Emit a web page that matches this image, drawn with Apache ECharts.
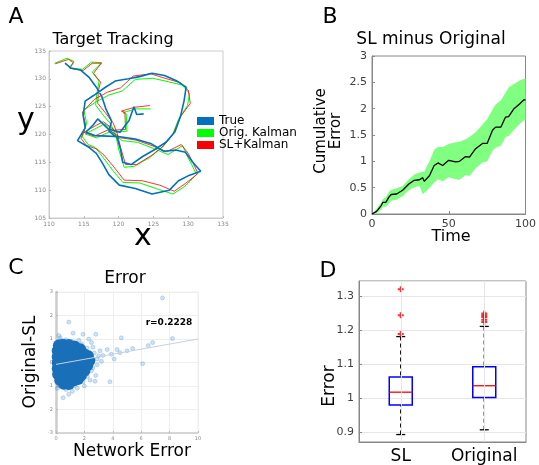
<!DOCTYPE html>
<html>
<head>
<meta charset="utf-8">
<script src="https://cdn.jsdelivr.net/npm/echarts@6/dist/echarts.min.js"></script>
<style>
  html, body { margin: 0; padding: 0; background: #fff; }
  #main { width: 539px; height: 465px; }
</style>
</head>
<body>
<div id="main"></div>
<script>
var FONT = 'DejaVu Sans';

// ---- A: target tracking (x, y) ----
var trackTrue = [
  [112.3,132.8],[113.2,131.9],[114.5,131.6],[115.8,130.2],[116.8,128.5],[117.6,126.8],[118.2,124.5],[119.0,122.4],
  [118.6,120.6],[119.8,119.4],[120.3,117.2],[120.6,115.0],[121.8,114.6],[123.4,116.0],[125.2,117.3],[126.8,118.6],
  [128.1,120.5],[128.9,123.3],[129.4,126.0],[129.7,128.5],[128.4,129.6],[126.6,130.6],[124.8,131.0],[123.0,130.4],
  [121.4,130.0],[119.5,129.6],[118.0,128.4],[116.4,127.0],[115.2,126.0],[114.9,123.5],[115.2,121.2],[114.1,118.9],
  [115.6,117.8],[116.8,116.6],[117.8,114.6],[118.6,112.8],[120.1,110.9],[122.4,110.3],[124.8,109.3],[127.3,110.0],
  [128.6,111.7],[130.2,112.7],[131.8,113.4],[130.6,115.1],[129.6,116.8],[128.2,117.2],[126.5,117.0],[124.6,118.4],
  [122.4,119.2],[120.2,119.6],[118.4,119.7],[116.6,119.8],[115.3,120.4],[116.4,121.8],[117.0,122.8],[118.5,121.0],
  [120.2,120.4],[121.5,122.5],[122.2,125.0],[122.6,123.6],[123.6,123.7]
];
var trackOrig = [
  [110.8,132.8],[112.6,133.7],[113.6,133.1],[112.9,132.0],[114.8,131.7],[116.1,133.0],[117.6,132.9],[116.2,131.2],
  [117.2,129.6],[116.9,127.6],[116.7,125.3],[117.7,123.6],[118.9,121.8],[119.6,119.9],[120.0,117.4],[120.8,114.1],
  [122.3,114.3],[124.5,115.9],[126.2,117.6],[127.7,119.8],[128.6,122.7],[129.9,125.2],[130.2,127.4],[129.1,128.9],
  [126.7,129.6],[124.9,130.1],[122.4,129.9],[120.5,127.8],[118.6,127.1],[116.8,125.9],[115.0,124.4],[115.4,122.1],
  [114.8,119.6],[115.6,118.2],[116.6,117.7],[117.7,116.0],[119.0,113.8],[120.6,111.4],[123.0,111.3],[125.6,110.2],
  [127.8,109.3],[129.4,110.6],[131.2,112.8],[130.5,114.6],[129.8,116.3],[129.2,118.0],[127.1,116.4],[125.0,117.5],
  [122.7,118.6],[120.5,118.9],[118.9,120.6],[116.8,119.4],[115.2,120.1],[116.9,121.2],[118.0,121.9],[119.6,120.4],
  [121.2,120.6],[121.1,123.7],[120.6,123.9],[122.4,124.6],[124.6,124.6]
];
var trackSL = [
  [110.9,132.7],[112.8,133.5],[113.5,132.9],[113.0,131.9],[114.9,131.5],[116.2,132.8],[117.5,132.8],[116.4,131.0],
  [117.4,129.4],[117.1,127.9],[117.0,125.6],[118.1,123.9],[119.2,122.1],[119.8,120.2],[120.3,117.6],[121.0,114.6],
  [122.6,114.6],[124.8,116.3],[126.5,118.0],[127.9,120.2],[128.9,123.2],[130.3,125.6],[130.0,128.0],[128.9,129.3],
  [126.4,130.2],[124.6,130.9],[122.1,130.5],[120.3,128.4],[118.4,127.6],[116.5,126.3],[114.8,124.0],[115.3,121.6],
  [114.6,119.3],[115.4,118.0],[116.9,117.4],[117.9,116.3],[119.3,114.2],[120.8,111.8],[123.4,111.7],[125.9,110.9],
  [128.0,109.8],[129.6,111.2],[131.4,113.0],[130.7,114.9],[130.0,116.6],[129.0,118.2],[126.9,116.9],[124.8,118.0],
  [122.5,119.0],[120.3,119.4],[118.6,120.9],[116.5,119.7],[115.0,120.4],[116.7,121.6],[117.8,122.3],[119.4,120.8],
  [121.0,120.9],[120.9,124.0],[120.4,124.2],[122.3,124.9],[124.5,125.2]
];

// ---- B: SL minus Original, cumulative error ----
var bTime  = [0, 3, 6, 7, 9, 11, 12.5, 16, 20, 24, 27.5, 31, 33, 34, 37.5, 40.5, 43, 46, 50, 54.5, 57, 61, 63.5, 67.5, 72, 75, 78.5, 80.5, 84, 87, 89, 92.5, 96.5, 99, 100];
var bMean  = [0, 0.05, 0.16, 0.22, 0.22, 0.32, 0.37, 0.38, 0.45, 0.57, 0.64, 0.65, 0.69, 0.62, 0.73, 0.92, 0.97, 0.92, 1.02, 0.99, 1.00, 1.09, 1.08, 1.24, 1.34, 1.34, 1.59, 1.65, 1.65, 1.84, 1.85, 2.00, 2.10, 2.17, 2.16];
var bUpper = [0, 0.10, 0.22, 0.28, 0.32, 0.42, 0.46, 0.49, 0.53, 0.66, 0.75, 0.79, 0.80, 0.80, 1.00, 1.22, 1.27, 1.27, 1.33, 1.36, 1.37, 1.42, 1.46, 1.55, 1.70, 1.80, 1.98, 2.08, 2.16, 2.30, 2.40, 2.47, 2.54, 2.57, 2.57];
var bLower = [0, 0.02, 0.08, 0.14, 0.14, 0.20, 0.25, 0.27, 0.34, 0.45, 0.51, 0.53, 0.38, 0.40, 0.50, 0.60, 0.66, 0.62, 0.70, 0.66, 0.65, 0.74, 0.72, 0.87, 0.98, 1.00, 1.20, 1.26, 1.30, 1.46, 1.48, 1.60, 1.72, 1.78, 1.77];

// ---- C: error scatter (network error, original-SL) ----
var cCore = [
  [0.2,0.72],[0.5,0.76],[0.9,0.74],[1.3,0.68],[1.7,0.56],
  [0.12,0.5],[0.4,0.55],[0.75,0.5],[1.1,0.52],[1.5,0.45],[1.9,0.38],[2.25,0.28],
  [0.12,0.25],[0.35,0.22],[0.65,0.28],[0.95,0.25],[1.25,0.2],[1.6,0.22],[2.0,0.15],[2.35,0.08],
  [0.12,0.0],[0.3,-0.02],[0.6,0.02],[0.9,-0.05],[1.2,0.0],[1.55,-0.03],[1.9,-0.08],[2.2,-0.12],
  [0.12,-0.25],[0.4,-0.28],[0.7,-0.22],[1.0,-0.3],[1.35,-0.25],[1.7,-0.3],[2.0,-0.35],
  [0.15,-0.5],[0.45,-0.55],[0.75,-0.5],[1.05,-0.55],[1.4,-0.5],[1.75,-0.55],
  [0.3,-0.75],[0.6,-0.78],[0.95,-0.72],[1.3,-0.76],[1.55,-0.7],
  [0.55,-0.9],[0.9,-0.92]
];
var cSparse = [
  [7.5,2.75],[0.9,1.72],[0.2,1.15],[1.2,1.25],[1.9,1.2],[2.8,1.2],[4.6,1.05],[8.2,1.02],[6.8,0.85],[6.5,0.72],
  [5.4,0.6],[5.0,0.5],[4.5,0.42],[3.9,0.35],[3.6,0.55],[3.3,0.3],[4.1,0.15],[3.1,0.5],[2.9,0.15],[2.6,0.65],
  [6.1,-0.05],[3.8,-0.82],[2.5,-0.35],[2.8,-0.55],[0.5,-1.5],[0.9,-1.35],[1.5,-1.1],[1.15,-1.22],[2.0,-1.0],
  [2.4,-0.75],[0.1,-1.1],[0.3,1.05],[3.2,0.05],[4.3,0.55],[2.3,1.0],[1.6,0.95],
  [2.9,-0.1],[2.7,0.4],[2.2,0.62],[0.3,0.95],[0.7,0.97],[1.1,0.9],[2.2,-0.6],[1.9,-0.82],[0.2,-0.98],
  [1.25,-1.0],[2.6,-0.22],[3.0,0.28],[2.5,0.85],[1.8,0.8],[2.75,-0.8],[0.7,-1.15]
];
var cFitX = [0, 10];
var cFitY = [-0.08, 1.0];
var cR = 'r=0.2228';

// ---- D: error boxplot ----
var dCats = ['SL', 'Original'];
var dStats = [   // min, q1, median, q3, max
  [0.893, 0.980, 1.018, 1.063, 1.182],
  [0.907, 1.002, 1.037, 1.093, 1.212]
];
var dOutSL = [1.19, 1.245, 1.322];
var dOutOrig = [1.225, 1.232, 1.24, 1.245, 1.25];

var chart = echarts.init(document.getElementById('main'));

function txt(x, y, s, size, extra) {
  var o = { type: 'text', x: x, y: y, style: { text: s, font: size + 'px ' + FONT, fill: '#000', align: 'center', verticalAlign: 'middle' } };
  if (extra) { for (var k in extra) o[k] = extra[k]; }
  return o;
}

var tinyLabel = { fontSize: 6, color: '#888', fontFamily: FONT, margin: 3 };
var tickLabel = { fontSize: 11, color: '#404040', fontFamily: FONT, margin: 5 };

var option = {
  backgroundColor: '#fff',
  animation: false,
  textStyle: { fontFamily: FONT },
  legend: {
    data: ['True', 'Orig. Kalman', 'SL+Kalman'],
    orient: 'vertical', left: 192, top: 110, itemWidth: 17, itemHeight: 8, itemGap: 0,
    icon: 'rect', textStyle: { fontSize: 12, color: '#000', fontFamily: FONT }
  },
  grid: [
    { left: 49, top: 51, width: 174, height: 167, show: true, borderColor: '#ccc', borderWidth: 1 },
    { left: 372, top: 56, width: 155, height: 158, show: true, borderColor: '#888', borderWidth: 1 },
    { left: 56, top: 292, width: 142, height: 141, show: true, borderColor: '#eee', borderWidth: 1 },
    { left: 359, top: 281, width: 167, height: 166, show: true, borderColor: '#888', borderWidth: 1 }
  ],
  xAxis: [
    { gridIndex: 0, type: 'value', min: 110, max: 135, interval: 5, axisLine: { lineStyle: { color: '#ccc' } },
      axisTick: { inside: true, length: 2, lineStyle: { color: '#bbb' } }, axisLabel: tinyLabel, splitLine: { show: false } },
    { gridIndex: 1, type: 'value', min: 0, max: 100, interval: 50, axisLine: { lineStyle: { color: '#888' } },
      axisTick: { inside: true, length: 3, lineStyle: { color: '#888' } }, axisLabel: tickLabel, splitLine: { show: false } },
    { gridIndex: 2, type: 'value', min: 0, max: 10, interval: 2, axisLine: { onZero: false, lineStyle: { color: '#ccc', width: 1.5 } },
      axisTick: { inside: true, length: 2, lineStyle: { color: '#bbb' } }, axisLabel: { fontSize: 5, color: '#888', fontFamily: FONT, margin: 3 },
      splitLine: { show: true, lineStyle: { color: '#eee' } } },
    { gridIndex: 3, type: 'category', data: dCats, axisLine: { lineStyle: { color: '#888' } },
      axisTick: { show: false }, axisLabel: { interval: 0, fontSize: 17, color: '#000', fontFamily: FONT, margin: 6 }, splitLine: { show: false } }
  ],
  yAxis: [
    { gridIndex: 0, type: 'value', min: 105, max: 135, interval: 5, axisLine: { show: true, lineStyle: { color: '#ccc' } },
      axisTick: { show: true, inside: true, length: 2, lineStyle: { color: '#bbb' } }, axisLabel: tinyLabel, splitLine: { show: false } },
    { gridIndex: 1, type: 'value', min: 0, max: 3, interval: 0.5, axisLine: { show: true, lineStyle: { color: '#888' } },
      axisTick: { show: true, inside: true, length: 3, lineStyle: { color: '#888' } }, axisLabel: tickLabel, splitLine: { show: false } },
    { gridIndex: 2, type: 'value', min: -3, max: 3, interval: 1, axisLine: { show: true, onZero: false, lineStyle: { color: '#ccc', width: 2.5 } },
      axisTick: { show: true, inside: true, length: 2, lineStyle: { color: '#bbb' } }, axisLabel: { fontSize: 5, color: '#888', fontFamily: FONT, margin: 3 },
      splitLine: { show: true, lineStyle: { color: '#eee' } } },
    { gridIndex: 3, type: 'value', min: 0.871, max: 1.346, splitNumber: 5, axisLine: { show: true, lineStyle: { color: '#888' } },
      axisTick: { show: true, inside: true, length: 3, lineStyle: { color: '#888' } },
      axisLabel: { fontSize: 11, color: '#404040', fontFamily: FONT, margin: 5, showMinLabel: false, showMaxLabel: false },
      splitLine: { show: true, lineStyle: { color: '#e6e6e6' } } }
  ],
  series: [
    // A
    { name: 'Orig. Kalman', type: 'line', xAxisIndex: 0, yAxisIndex: 0, data: trackOrig, symbol: 'none',
      lineStyle: { color: '#00ff00', width: 1 }, itemStyle: { color: '#00ff00' } },
    { name: 'SL+Kalman', type: 'line', xAxisIndex: 0, yAxisIndex: 0, data: trackSL, symbol: 'none',
      lineStyle: { color: '#ff0000', width: 0.8 }, itemStyle: { color: '#ff0000' } },
    { name: 'True', type: 'line', xAxisIndex: 0, yAxisIndex: 0, data: trackTrue, symbol: 'none',
      lineStyle: { color: '#0072bd', width: 1.6 }, itemStyle: { color: '#0072bd' } },
    // B
    { type: 'custom', xAxisIndex: 1, yAxisIndex: 1, data: [[0, 0]], silent: true,
      renderItem: function (params, api) {
        var pts = [];
        for (var i = 0; i < bTime.length; i++) pts.push(api.coord([bTime[i], bUpper[i]]));
        for (var j = bTime.length - 1; j >= 0; j--) pts.push(api.coord([bTime[j], bLower[j]]));
        return { type: 'polygon', shape: { points: pts }, style: { fill: '#80ff80' } };
      } },
    { type: 'line', xAxisIndex: 1, yAxisIndex: 1, symbol: 'none',
      data: bTime.map(function (t, i) { return [t, bMean[i]]; }),
      lineStyle: { color: '#000', width: 1.3 } },
    // C
    { type: 'scatter', xAxisIndex: 2, yAxisIndex: 2, data: cSparse, symbolSize: 4, clip: true,
      itemStyle: { color: 'rgba(60,140,205,0.3)', borderColor: 'rgba(40,120,200,0.5)', borderWidth: 0.6 } },
    { type: 'scatter', xAxisIndex: 2, yAxisIndex: 2, data: cCore, symbolSize: 12, clip: true,
      itemStyle: { color: '#1a6fb9', opacity: 1 } },
    { type: 'line', xAxisIndex: 2, yAxisIndex: 2, symbol: 'none', z: 5,
      data: cFitX.map(function (x, i) { return [x, cFitY[i]]; }),
      lineStyle: { color: '#c4d2e2', width: 1 } },
    // D
    { type: 'line', xAxisIndex: 3, yAxisIndex: 3, data: [], z: 1,
      markLine: { silent: true, symbol: 'none', label: { show: false },
        lineStyle: { color: '#e6e6e6', type: 'solid', width: 1 },
        data: dCats.map(function (c) { return { xAxis: c }; }) } },
    { type: 'custom', xAxisIndex: 3, yAxisIndex: 3, z: 3,
      data: dStats.map(function (s, i) { return [i].concat(s); }),
      encode: { x: 0, y: [1, 2, 3, 4, 5] },
      renderItem: function (params, api) {
        var c = api.value(0);
        var pMin = api.coord([c, api.value(1)]);
        var pQ1 = api.coord([c, api.value(2)]);
        var pMed = api.coord([c, api.value(3)]);
        var pQ3 = api.coord([c, api.value(4)]);
        var pMax = api.coord([c, api.value(5)]);
        var half = 11.5, cap = 4.5;
        var dash = { stroke: '#000', lineWidth: 1.3, lineDash: [4, 3] };
        var solid = { stroke: '#000', lineWidth: 1.3 };
        return { type: 'group', children: [
          { type: 'line', shape: { x1: pMax[0], y1: pMax[1], x2: pQ3[0], y2: pQ3[1] }, style: dash },
          { type: 'line', shape: { x1: pMin[0], y1: pMin[1], x2: pQ1[0], y2: pQ1[1] }, style: dash },
          { type: 'line', shape: { x1: pMax[0] - cap, y1: pMax[1], x2: pMax[0] + cap, y2: pMax[1] }, style: solid },
          { type: 'line', shape: { x1: pMin[0] - cap, y1: pMin[1], x2: pMin[0] + cap, y2: pMin[1] }, style: solid },
          { type: 'rect', shape: { x: pQ3[0] - half, y: pQ3[1], width: 2 * half, height: pQ1[1] - pQ3[1] },
            style: { fill: 'none', stroke: '#0000ff', lineWidth: 1.5 } },
          { type: 'line', shape: { x1: pMed[0] - half, y1: pMed[1], x2: pMed[0] + half, y2: pMed[1] },
            style: { stroke: '#ff0000', lineWidth: 1.3 } }
        ] };
      } },
    { type: 'scatter', xAxisIndex: 3, yAxisIndex: 3, z: 4, symbol: 'path://M-1,-3H1V-1H3V1H1V3H-1V1H-3V-1H-1Z', symbolSize: 6,
      itemStyle: { color: '#ff0000' },
      data: dOutSL.map(function (v) { return ['SL', v]; }).concat(dOutOrig.map(function (v) { return ['Original', v]; })) }
  ],
  graphic: [
    txt(16, 17, 'A', 22),
    txt(113, 40, 'Target Tracking', 16),
    txt(26, 121, 'y', 30),
    txt(143, 237, 'x', 30),
    txt(330, 17, 'B', 22),
    txt(431, 40, 'SL minus Original', 17),
    txt(329, 131, 'Cumulative\nError', 15, { rotation: Math.PI / 2 }),
    txt(451, 237, 'Time', 16),
    txt(16, 268, 'C', 22),
    txt(125, 279, 'Error', 17),
    txt(31, 362, 'Original-SL', 17, { rotation: Math.PI / 2 }),
    txt(132, 452, 'Network Error', 17),
    { type: 'text', x: 169, y: 323, z: 10, style: { text: cR, font: 'bold 9px ' + FONT, fill: '#000', align: 'center', verticalAlign: 'middle' } },
    txt(328, 271, 'D', 22),
    txt(330, 386, 'Error', 17, { rotation: Math.PI / 2 })
  ]
};

chart.setOption(option);
</script>
</body>
</html>
